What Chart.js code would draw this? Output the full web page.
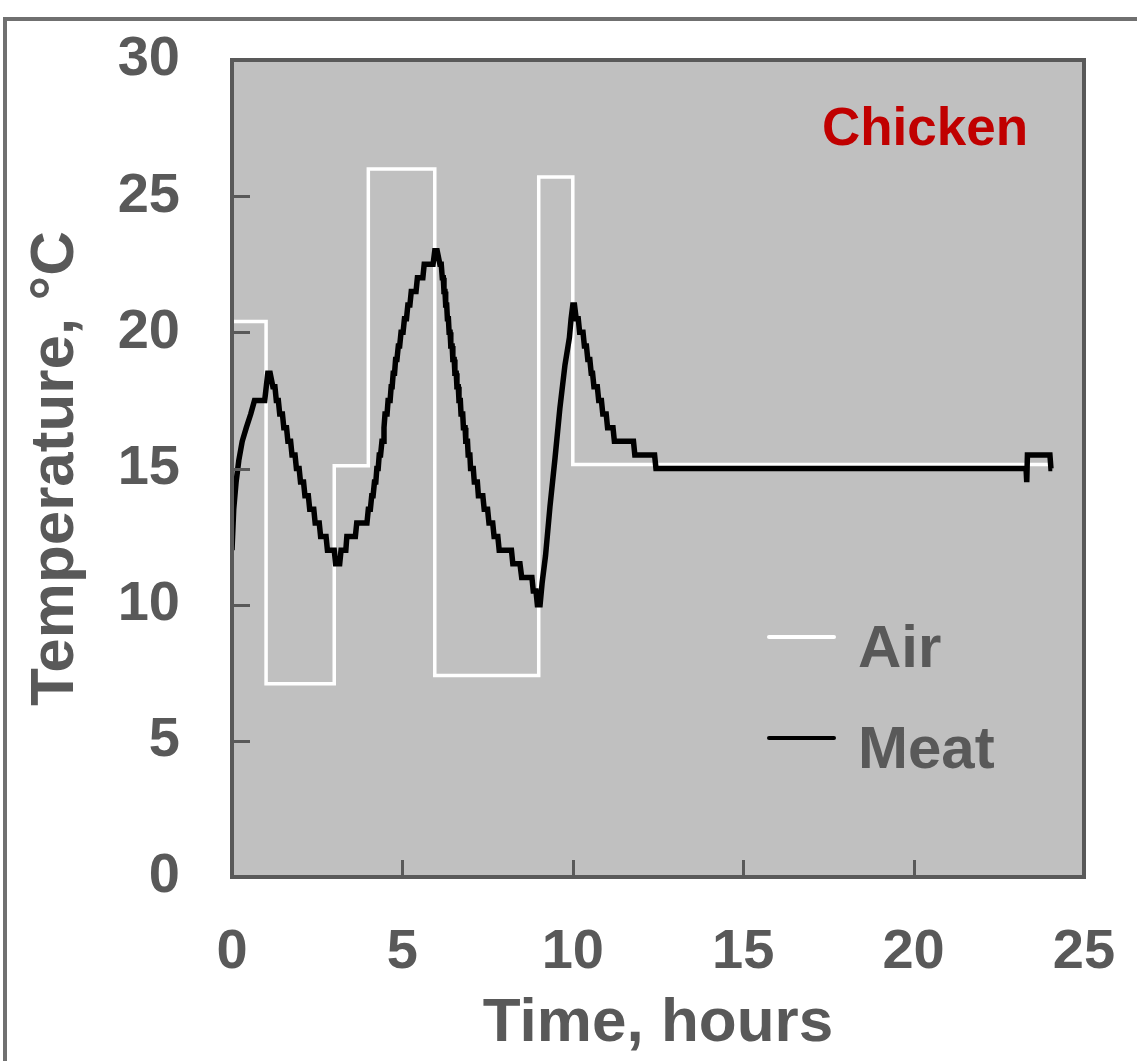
<!DOCTYPE html>
<html>
<head>
<meta charset="utf-8">
<script src="https://cdn.jsdelivr.net/npm/chart.js@4/dist/chart.umd.min.js"></script>
<style>
  html, body { margin: 0; padding: 0; background: #ffffff; }
  #wrap { position: relative; width: 1137px; height: 1061px; overflow: hidden; }
  #frame { position: absolute; left: 3px; top: 17px; width: 1140px; height: 1100px;
           border-top: 4px solid #707070; border-left: 4px solid #707070; box-sizing: border-box; }
  canvas { position: absolute; left: 0; top: 0; }
</style>
</head>
<body>
<div id="wrap">
  <div id="frame"></div>
  <canvas id="c" width="1137" height="1061"></canvas>
</div>
<script>
// ---- data ----
const panelLabel = "Chicken";
const xTitle = "Time, hours";
const yTitle = "Temperature, \u00B0C";
const xTicks = [0, 5, 10, 15, 20, 25];
const yTicks = [0, 5, 10, 15, 20, 25, 30];

const airTime = [0, 1.0, 1.0, 3.0, 3.0, 4.0, 4.0, 5.95, 5.95, 9.0, 9.0, 10.0, 10.0, 24.0];
const airTemp = [20.4, 20.4, 7.1, 7.1, 15.1, 15.1, 26.0, 26.0, 7.4, 7.4, 25.7, 25.7, 15.15, 15.15];

const meatTime = [
  0, 0.05, 0.12, 0.2, 0.3, 0.42, 0.55, 0.66, 0.96, 1.05, 1.12,
  1.2, 1.26, 1.3, 1.36, 1.4, 1.48, 1.52, 1.6, 1.64, 1.72, 1.76, 1.85, 1.89, 1.97,
  2.01, 2.1, 2.14, 2.24, 2.28, 2.4, 2.44, 2.56, 2.6, 2.76, 2.8, 3.0, 3.04, 3.16,
  3.2, 3.34, 3.37, 3.62, 3.66, 3.96, 4.0, 4.06,
  4.1, 4.14, 4.18, 4.22, 4.25, 4.29, 4.32, 4.36, 4.4, 4.44, 4.46, 4.49, 4.55, 4.58, 4.64,
  4.67, 4.7, 4.73, 4.77, 4.8, 4.84, 4.88, 4.92, 4.96, 5.02, 5.06, 5.12, 5.16, 5.22,
  5.26, 5.4, 5.44, 5.6, 5.64, 5.9, 5.95, 6.02,
  6.1, 6.14, 6.17, 6.2, 6.22, 6.25, 6.27, 6.3, 6.32, 6.35, 6.37, 6.4, 6.42, 6.46,
  6.48, 6.52, 6.54, 6.58, 6.6, 6.64, 6.66, 6.7, 6.72, 6.77, 6.79, 6.84, 6.86, 6.91,
  6.93, 6.98, 7.0, 7.08, 7.11, 7.2, 7.23, 7.36, 7.4, 7.5, 7.54, 7.65, 7.69, 7.8,
  7.84, 8.2, 8.24, 8.45, 8.5, 8.8, 8.84, 8.92, 8.96, 9.04,
  9.1, 9.2, 9.33, 9.48, 9.62, 9.77, 9.9, 9.95, 10.0, 10.05,
  10.1, 10.16, 10.2, 10.3, 10.34, 10.4, 10.44, 10.5, 10.54, 10.58, 10.62, 10.72,
  10.76, 10.84, 10.88, 10.98, 11.02, 11.18, 11.22, 11.78, 11.82, 12.4, 12.44,
  23.3, 23.32, 23.34, 24.0, 24.03, 24.07
];
const meatTemp = [
  12.0, 13.5, 14.5, 15.3, 16.0, 16.5, 17.0, 17.5, 17.5, 18.5, 18.5,
  18.0, 18.0, 17.5, 17.5, 17.0, 17.0, 16.5, 16.5, 16.0, 16.0, 15.5, 15.5, 15.0, 15.0,
  14.5, 14.5, 14.0, 14.0, 13.5, 13.5, 13.0, 13.0, 12.5, 12.5, 12.0, 12.0, 11.5, 11.5,
  12.0, 12.0, 12.5, 12.5, 13.0, 13.0, 13.5, 13.5,
  14.0, 14.0, 14.5, 14.5, 15.0, 15.0, 15.5, 15.5, 16.0, 16.0, 16.5, 17.0, 17.0, 17.5, 17.5,
  18.0, 18.0, 18.5, 18.5, 19.0, 19.0, 19.5, 19.5, 20.0, 20.0, 20.5, 20.5, 21.0, 21.0,
  21.5, 21.5, 22.0, 22.0, 22.5, 22.5, 23.0, 23.0,
  22.5, 22.5, 22.0, 22.0, 21.5, 21.5, 21.0, 21.0, 20.5, 20.5, 20.0, 20.0, 19.5, 19.5,
  19.0, 19.0, 18.5, 18.5, 18.0, 18.0, 17.5, 17.5, 17.0, 17.0, 16.5, 16.5, 16.0, 16.0,
  15.5, 15.5, 15.0, 15.0, 14.5, 14.5, 14.0, 14.0, 13.5, 13.5, 13.0, 13.0, 12.5, 12.5,
  12.0, 12.0, 11.5, 11.5, 11.0, 11.0, 10.5, 10.5, 10.0, 10.0,
  10.8, 11.8, 13.6, 15.4, 17.2, 18.8, 19.8, 20.5, 21.0, 21.0,
  20.5, 20.5, 20.0, 20.0, 19.5, 19.5, 19.0, 19.0, 18.5, 18.5, 18.0, 18.0,
  17.5, 17.5, 17.0, 17.0, 16.5, 16.5, 16.0, 16.0, 15.5, 15.5, 15.0,
  15.0, 14.5, 15.5, 15.5, 15.0, 15.0
];
const seriesNames = ["Air", "Meat"];
const seriesColors = ["#ffffff", "#000000"];

// ---- chart ----
const FONT = '"Liberation Sans", Arial, sans-serif';
const GREY = '#595959';
const toPts = (xs, ys) => xs.map((x, i) => ({ x: x, y: ys[i] }));
const zeroPad = s => { s.paddingTop = 0; s.paddingBottom = 0; s.paddingLeft = 0; s.paddingRight = 0; };

const plotDecor = {
  id: 'plotDecor',
  beforeDraw(chart) {
    const { ctx, chartArea: a } = chart;
    ctx.save();
    ctx.fillStyle = '#c0c0c0';
    ctx.fillRect(a.left, a.top, a.right - a.left, a.bottom - a.top);
    ctx.restore();
  },
  afterDatasetsDraw(chart) {
    const { ctx, chartArea: a, scales } = chart;
    ctx.save();
    // inward tick marks
    ctx.strokeStyle = GREY;
    ctx.lineWidth = 3;
    ctx.beginPath();
    xTicks.forEach(v => {
      if (v === xTicks[0] || v === xTicks[xTicks.length - 1]) return;
      const px = Math.round(scales.x.getPixelForValue(v)) + 0.5;
      ctx.moveTo(px, a.bottom); ctx.lineTo(px, a.bottom - 17);
    });
    yTicks.forEach(v => {
      if (v === yTicks[0] || v === yTicks[yTicks.length - 1]) return;
      const py = Math.round(scales.y.getPixelForValue(v)) + 0.5;
      ctx.moveTo(a.left, py); ctx.lineTo(a.left + 18, py);
    });
    ctx.stroke();
    // plot border
    ctx.lineWidth = 4;
    ctx.strokeRect(a.left, a.top, a.right - a.left, a.bottom - a.top);

    // panel label
    ctx.fillStyle = '#c00000';
    ctx.font = 'bold 53px ' + FONT;
    ctx.textAlign = 'center';
    ctx.textBaseline = 'alphabetic';
    ctx.fillText(panelLabel, 925, 145);

    // legend (from the datasets)
    const ds = chart.data.datasets;
    const rows = [637, 738];
    ctx.textAlign = 'left';
    ctx.font = 'bold 60px ' + FONT;
    ctx.lineCap = 'round';
    ['Air', 'Meat'].forEach((name, k) => {
      const d = ds.find(s => s.label === name);
      ctx.strokeStyle = d.borderColor;
      ctx.lineWidth = 4;
      ctx.beginPath();
      ctx.moveTo(769, rows[k]); ctx.lineTo(834, rows[k]);
      ctx.stroke();
      ctx.fillStyle = GREY;
      ctx.fillText(d.label, 858, rows[k] + 30);
    });
    ctx.restore();
  }
};

new Chart(document.getElementById('c'), {
  type: 'line',
  data: {
    datasets: [
      { label: seriesNames[0], data: toPts(airTime, airTemp), borderColor: seriesColors[0],
        borderWidth: 3.5, pointRadius: 0, tension: 0, order: 1 },
      { label: seriesNames[1], data: toPts(meatTime, meatTemp), borderColor: seriesColors[1],
        borderWidth: 5.5, pointRadius: 0, tension: 0, order: 0 }
    ]
  },
  options: {
    responsive: false,
    animation: false,
    devicePixelRatio: 1,
    layout: { padding: { left: 0, top: 60, right: 53, bottom: 0 } },
    plugins: { legend: { display: false }, tooltip: { enabled: false } },
    scales: {
      x: {
        type: 'linear', min: 0, max: 25,
        afterBuildTicks: s => { s.ticks = xTicks.map(v => ({ value: v })); },
        afterFit: s => { s.height = 184; zeroPad(s); },
        grid: { display: false, drawTicks: false },
        border: { display: false },
        ticks: { color: GREY, padding: 42, font: { family: FONT, size: 56, weight: 'bold' } },
        title: { display: true, text: xTitle, color: GREY, padding: { top: 0, bottom: 0 },
                 font: { family: FONT, size: 62, weight: 'bold' } }
      },
      y: {
        type: 'linear', min: 0, max: 30,
        afterBuildTicks: s => { s.ticks = yTicks.map(v => ({ value: v })); },
        afterFit: s => { s.width = 232; zeroPad(s); },
        grid: { display: false, drawTicks: false },
        border: { display: false },
        ticks: { color: GREY, padding: 52, font: { family: FONT, size: 56, weight: 'bold' } },
        title: { display: true, text: yTitle, color: GREY, padding: { top: 19, bottom: 0 },
                 font: { family: FONT, size: 62, weight: 'bold' } }
      }
    }
  },
  plugins: [plotDecor]
});
</script>
</body>
</html>
